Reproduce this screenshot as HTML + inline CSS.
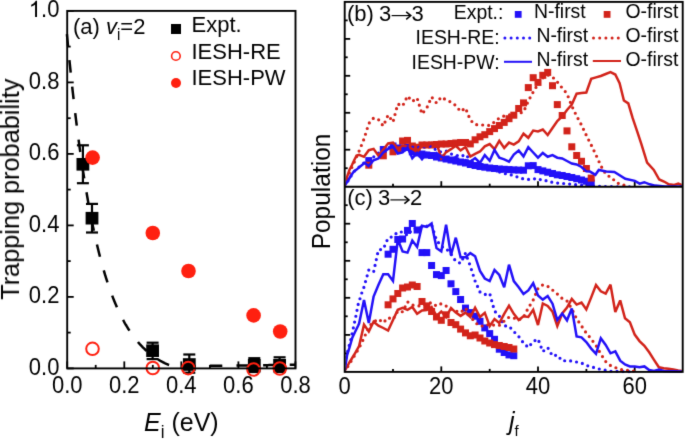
<!DOCTYPE html>
<html><head><meta charset="utf-8"><title>Trapping probability and rotational distributions</title><style>
html,body{margin:0;padding:0;background:#fff;overflow:hidden;}
svg{display:block;font-family:"Liberation Sans",sans-serif;will-change:transform;}
</style></head><body>
<svg width="685" height="439" viewBox="0 0 685 439">
<defs><filter id="soft" color-interpolation-filters="sRGB" x="0" y="0" width="685" height="439" filterUnits="userSpaceOnUse"><feConvolveMatrix order="3" kernelMatrix="0.01134 0.08382 0.01134 0.08382 0.61935 0.08382 0.01134 0.08382 0.01134" divisor="1" edgeMode="duplicate"/></filter></defs>
<g filter="url(#soft)">
<rect width="685" height="439" fill="#fff"/>

<line x1="67.2" y1="368.4" x2="73.7" y2="368.4" stroke="#000" stroke-width="1.8"/>
<line x1="67.2" y1="332.6" x2="70.7" y2="332.6" stroke="#000" stroke-width="1.8"/>
<line x1="67.2" y1="296.9" x2="73.7" y2="296.9" stroke="#000" stroke-width="1.8"/>
<line x1="67.2" y1="261.1" x2="70.7" y2="261.1" stroke="#000" stroke-width="1.8"/>
<line x1="67.2" y1="225.4" x2="73.7" y2="225.4" stroke="#000" stroke-width="1.8"/>
<line x1="67.2" y1="189.6" x2="70.7" y2="189.6" stroke="#000" stroke-width="1.8"/>
<line x1="67.2" y1="153.9" x2="73.7" y2="153.9" stroke="#000" stroke-width="1.8"/>
<line x1="67.2" y1="118.2" x2="70.7" y2="118.2" stroke="#000" stroke-width="1.8"/>
<line x1="67.2" y1="82.4" x2="73.7" y2="82.4" stroke="#000" stroke-width="1.8"/>
<line x1="67.2" y1="46.6" x2="70.7" y2="46.6" stroke="#000" stroke-width="1.8"/>
<line x1="67.2" y1="10.9" x2="73.7" y2="10.9" stroke="#000" stroke-width="1.8"/>
<line x1="67.2" y1="368.4" x2="67.2" y2="361.4" stroke="#000" stroke-width="1.8"/>
<line x1="95.7" y1="368.4" x2="95.7" y2="364.9" stroke="#000" stroke-width="1.8"/>
<line x1="124.3" y1="368.4" x2="124.3" y2="361.4" stroke="#000" stroke-width="1.8"/>
<line x1="152.8" y1="368.4" x2="152.8" y2="364.9" stroke="#000" stroke-width="1.8"/>
<line x1="181.3" y1="368.4" x2="181.3" y2="361.4" stroke="#000" stroke-width="1.8"/>
<line x1="209.9" y1="368.4" x2="209.9" y2="364.9" stroke="#000" stroke-width="1.8"/>
<line x1="238.4" y1="368.4" x2="238.4" y2="361.4" stroke="#000" stroke-width="1.8"/>
<line x1="266.9" y1="368.4" x2="266.9" y2="364.9" stroke="#000" stroke-width="1.8"/>
<line x1="295.4" y1="368.4" x2="295.4" y2="361.4" stroke="#000" stroke-width="1.8"/>
<path d="M66.91,34.13 L67.20,37.20 L67.49,40.24 L67.77,43.25 L68.06,46.24 L68.34,49.20 L68.63,52.13 L68.91,55.04 L69.20,57.92 L69.48,60.78 L69.77,63.61 L70.05,66.42 L70.34,69.20 L70.62,71.96 L70.91,74.69 L71.19,77.40 L71.48,80.08 L71.76,82.74 L72.05,85.38 L72.34,87.99 L72.62,90.58 L72.91,93.14 L73.19,95.69 L73.48,98.21 L73.76,100.71 L74.05,103.19 L74.33,105.64 L74.62,108.07 L74.90,110.48 L75.19,112.87 L75.47,115.24 L75.76,117.59 L76.04,119.92 L76.33,122.22 L76.61,124.51 L76.90,126.77 L77.19,129.02 L77.47,131.24 L77.76,133.45 L78.04,135.63 L78.33,137.80 L78.61,139.95 L78.90,142.08 L79.18,144.19 L79.47,146.28 L79.75,148.35 L80.04,150.40 L80.32,152.44 L80.61,154.45 L80.89,156.45 L81.18,158.43 L81.47,160.40 L81.75,162.34 L82.04,164.27 L82.32,166.18 L82.61,168.08 L82.89,169.96 L83.18,171.82 L83.46,173.66 L83.75,175.49 L84.03,177.30 L84.32,179.10 L84.60,180.88 L84.89,182.65 L85.17,184.39 L85.46,186.13 L85.74,187.85 L86.03,189.55 L86.32,191.23 L86.60,192.91 L86.89,194.56 L87.17,196.21 L87.46,197.84 L87.74,199.45 L88.03,201.05 L88.31,202.63 L88.60,204.21 L88.88,205.76 L89.17,207.31 L89.45,208.84 L89.74,210.35 L90.02,211.85 L90.31,213.34 L90.59,214.82 L90.88,216.28 L91.17,217.73 L91.45,219.17 L91.74,220.59 L92.02,222.00 L92.31,223.40 L92.59,224.79 L92.88,226.16 L93.16,227.53 L93.45,228.88 L93.73,230.21 L94.02,231.54 L94.30,232.85 L94.59,234.16 L94.87,235.45 L95.16,236.73 L95.44,238.00 L95.73,239.25 L96.02,240.50 L96.30,241.73 L96.59,242.96 L96.87,244.17 L97.16,245.37 L97.44,246.56 L97.73,247.74 L98.01,248.91 L98.30,250.07 L98.58,251.22 L98.87,252.36 L99.15,253.49 L99.44,254.61 L99.72,255.72 L100.01,256.82 L100.29,257.91 L100.58,258.99 L100.87,260.06 L101.15,261.12 L101.44,262.17 L101.72,263.21 L102.01,264.25 L102.29,265.27 L102.58,266.29 L102.86,267.29 L103.15,268.29 L103.43,269.27 L103.72,270.25 L104.00,271.22 L104.29,272.19 L104.57,273.14 L104.86,274.08 L105.14,275.02 L105.43,275.95 L105.72,276.87 L106.00,277.78 L106.29,278.68 L106.57,279.58 L106.86,280.47 L107.14,281.34 L107.43,282.22 L107.71,283.08 L108.00,283.94 L108.28,284.79 L108.57,285.63 L108.85,286.46 L109.14,287.29 L109.42,288.11 L109.71,288.92 L110.00,289.72 L110.28,290.52 L110.57,291.31 L110.85,292.09 L111.14,292.87 L111.42,293.64 L111.71,294.40 L111.99,295.16 L112.28,295.91 L112.56,296.65 L112.85,297.38 L113.13,298.11 L113.42,298.84 L113.70,299.55 L113.99,300.26 L114.27,300.96 L114.56,301.66 L114.85,302.35 L115.13,303.04 L115.42,303.72 L115.70,304.39 L115.99,305.06 L116.27,305.72 L116.56,306.37 L116.84,307.02 L117.13,307.67 L117.41,308.30 L117.70,308.94 L117.98,309.56 L118.27,310.18 L118.55,310.80 L118.84,311.41 L119.12,312.01 L119.41,312.61 L119.70,313.21 L119.98,313.80 L120.27,314.38 L120.55,314.96 L120.84,315.53 L121.12,316.10 L121.41,316.66 L121.69,317.22 L121.98,317.77 L122.26,318.32 L122.55,318.86 L122.83,319.40 L123.12,319.93 L123.40,320.46 L123.69,320.99 L123.97,321.51 L124.26,322.02 L124.55,322.53 L124.83,323.04 L125.12,323.54 L125.40,324.04 L125.69,324.53 L125.97,325.02 L126.26,325.50 L126.54,325.98 L126.83,326.45 L127.11,326.92 L127.40,327.39 L127.68,327.85 L127.97,328.31 L128.25,328.77 L128.54,329.22 L128.82,329.66 L129.11,330.10 L129.40,330.54 L129.68,330.98 L129.97,331.41 L130.25,331.84 L130.54,332.26 L130.82,332.68 L131.11,333.09 L131.39,333.50 L131.68,333.91 L131.96,334.32 L132.25,334.72 L132.53,335.12 L132.82,335.51 L133.10,335.90 L133.39,336.29 L133.67,336.67 L133.96,337.05 L134.25,337.43 L134.53,337.80 L134.82,338.17 L135.10,338.54 L135.39,338.90 L135.67,339.26 L135.96,339.62 L136.24,339.97 L136.53,340.32 L136.81,340.67 L137.10,341.01 L137.38,341.35 L137.67,341.69 L137.95,342.03 L138.24,342.36 L138.53,342.69 L138.81,343.01 L139.10,343.34 L139.38,343.66 L139.67,343.98 L139.95,344.29 L140.24,344.60 L140.52,344.91 L140.81,345.22 L141.09,345.52 L141.38,345.82 L141.66,346.12 L141.95,346.42 L142.23,346.71 L142.52,347.00 L142.80,347.29 L143.09,347.57 L143.38,347.86 L143.66,348.14 L143.95,348.42 L144.23,348.69 L144.52,348.96 L144.80,349.23 L145.09,349.50 L145.37,349.77 L145.66,350.03 L145.94,350.29 L146.23,350.55 L146.51,350.81 L146.80,351.06 L147.08,351.31 L147.37,351.56 L147.65,351.81 L147.94,352.05 L148.23,352.30 L148.51,352.54 L148.80,352.77 L149.08,353.01 L149.37,353.24 L149.65,353.48 L149.94,353.71 L150.22,353.93 L150.51,354.16 L150.79,354.38 L151.08,354.61 L151.36,354.83 L151.65,355.04 L151.93,355.26 L152.22,355.47 L152.50,355.68 L152.79,355.89 L153.08,356.10 L153.36,356.31 L153.65,356.51 L153.93,356.72 L154.22,356.92 L154.50,357.12 L154.79,357.31 L155.07,357.51 L155.36,357.70 L155.64,357.89 L155.93,358.08 L156.21,358.27 L156.50,358.46 L156.78,358.64 L157.07,358.82 L157.35,359.00 L157.64,359.18 L157.93,359.36 L158.21,359.54 L158.50,359.71 L158.78,359.89 L159.07,360.06 L159.35,360.23 L159.64,360.39 L159.92,360.56 L160.21,360.72 L160.49,360.89 L160.78,361.05 L161.06,361.21 L161.35,361.37 L161.63,361.52 L161.92,361.68 L162.20,361.83 L162.49,361.98 L162.78,362.13 L163.06,362.28 L163.35,362.43 L163.63,362.57 L163.92,362.72 L164.20,362.86 L164.49,363.00 L164.77,363.14 L165.06,363.27 L165.34,363.41 L165.63,363.54 L165.91,363.67 L166.20,363.80 L166.48,363.92 L166.77,364.05 L167.06,364.17 L167.34,364.29 L167.63,364.40 L167.91,364.52 L168.20,364.63 L168.48,364.74 L168.77,364.84 L169.05,364.94 L169.34,365.03 L169.62,365.12 L169.91,365.21 L170.19,365.29 L170.48,365.37 L170.76,365.44 L171.05,365.50 L171.33,365.56 L171.62,365.62 L171.91,365.67 L172.19,365.71 L172.48,365.75 L172.76,365.79 L173.05,365.82 L173.33,365.85 L173.62,365.87 L173.90,365.90 L174.19,365.92 L174.47,365.94 L174.76,365.95 L175.04,365.97 L175.33,365.98 L175.61,365.99 L175.90,366.01 L176.18,366.02 L176.47,366.03 L176.76,366.03 L177.04,366.04 L177.33,366.05 L177.61,366.06 L177.90,366.06 L178.18,366.07 L178.47,366.08 L178.75,366.08 L179.04,366.09 L179.32,366.09 L179.61,366.10 L179.89,366.10 L180.18,366.10 L180.46,366.11 L180.75,366.11 L181.03,366.11 L181.32,366.12 L181.61,366.12 L181.89,366.12 L182.18,366.12 L182.46,366.11 L182.75,366.11 L183.03,366.11 L183.32,366.11 L183.60,366.11 L183.89,366.11 L184.17,366.11 L184.46,366.11 L184.74,366.10 L185.03,366.10 L185.31,366.10 L185.60,366.10 L185.88,366.10 L186.17,366.09 L186.46,366.09 L186.74,366.09 L187.03,366.09 L187.31,366.09 L187.60,366.08 L187.88,366.08 L188.17,366.08 L188.45,366.08 L188.74,366.07 L189.02,366.07 L189.31,366.07 L189.59,366.07 L189.88,366.06 L190.16,366.06 L190.45,366.06 L190.73,366.06 L191.02,366.05 L191.31,366.05 L191.59,366.05 L191.88,366.04 L192.16,366.04 L192.45,366.04 L192.73,366.04 L193.02,366.03 L193.30,366.03 L193.59,366.03 L193.87,366.02 L194.16,366.02 L194.44,366.02 L194.73,366.02 L195.01,366.01 L195.30,366.01 L195.59,366.01 L195.87,366.00 L196.16,366.00 L196.44,366.00 L196.73,365.99 L197.01,365.99 L197.30,365.99 L197.58,365.98 L197.87,365.98 L198.15,365.98 L198.44,365.98 L198.72,365.97 L199.01,365.97 L199.29,365.97 L199.58,365.96 L199.86,365.96 L200.15,365.96 L200.44,365.95 L200.72,365.95 L201.01,365.95 L201.29,365.94 L201.58,365.94 L201.86,365.94 L202.15,365.93 L202.43,365.93 L202.72,365.93 L203.00,365.92 L203.29,365.92 L203.57,365.92 L203.86,365.91 L204.14,365.91 L204.43,365.91 L204.71,365.90 L205.00,365.90 L205.29,365.90 L205.57,365.89 L205.86,365.89 L206.14,365.89 L206.43,365.88 L206.71,365.88 L207.00,365.88 L207.28,365.87 L207.57,365.87 L207.85,365.87 L208.14,365.86 L208.42,365.86 L208.71,365.86 L208.99,365.85 L209.28,365.85 L209.56,365.85 L209.85,365.84 L210.14,365.84 L210.42,365.84 L210.71,365.83 L210.99,365.83 L211.28,365.83 L211.56,365.82 L211.85,365.82 L212.13,365.82 L212.42,365.81 L212.70,365.81 L212.99,365.81 L213.27,365.80 L213.56,365.80 L213.84,365.80 L214.13,365.79 L214.41,365.79 L214.70,365.79 L214.99,365.78 L215.27,365.78 L215.56,365.78 L215.84,365.77 L216.13,365.77 L216.41,365.77 L216.70,365.76 L216.98,365.76 L217.27,365.76 L217.55,365.75 L217.84,365.75 L218.12,365.75 L218.41,365.74 L218.69,365.74 L218.98,365.74 L219.26,365.73 L219.55,365.73 L219.84,365.73 L220.12,365.72 L220.41,365.72 L220.69,365.71 L220.98,365.71 L221.26,365.71 L221.55,365.70 L221.83,365.70 L222.12,365.70 L222.40,365.69 L222.69,365.69 L222.97,365.69 L223.26,365.68 L223.54,365.68 L223.83,365.68 L224.12,365.67 L224.40,365.67 L224.69,365.67 L224.97,365.66 L225.26,365.66 L225.54,365.66 L225.83,365.65 L226.11,365.65 L226.40,365.65 L226.68,365.64 L226.97,365.64 L227.25,365.64 L227.54,365.63 L227.82,365.63 L228.11,365.62 L228.39,365.62 L228.68,365.62 L228.97,365.61 L229.25,365.61 L229.54,365.61 L229.82,365.60 L230.11,365.60 L230.39,365.60 L230.68,365.59 L230.96,365.59 L231.25,365.59 L231.53,365.58 L231.82,365.58 L232.10,365.58 L232.39,365.57 L232.67,365.57 L232.96,365.57 L233.24,365.56 L233.53,365.56 L233.82,365.55 L234.10,365.55 L234.39,365.55 L234.67,365.54 L234.96,365.54 L235.24,365.54 L235.53,365.53 L235.81,365.53 L236.10,365.53 L236.38,365.52 L236.67,365.52 L236.95,365.52 L237.24,365.51 L237.52,365.51 L237.81,365.51 L238.09,365.50 L238.38,365.50 L238.67,365.50 L238.95,365.49 L239.24,365.49 L239.52,365.48 L239.81,365.48 L240.09,365.48 L240.38,365.47 L240.66,365.47 L240.95,365.47 L241.23,365.46 L241.52,365.46 L241.80,365.46 L242.09,365.45 L242.37,365.45 L242.66,365.45 L242.94,365.44 L243.23,365.44 L243.52,365.44 L243.80,365.43 L244.09,365.43 L244.37,365.42 L244.66,365.42 L244.94,365.42 L245.23,365.41 L245.51,365.41 L245.80,365.41 L246.08,365.40 L246.37,365.40 L246.65,365.40 L246.94,365.39 L247.22,365.39 L247.51,365.39 L247.79,365.38 L248.08,365.38 L248.37,365.38 L248.65,365.37 L248.94,365.37 L249.22,365.36 L249.51,365.36 L249.79,365.36 L250.08,365.35 L250.36,365.35 L250.65,365.35 L250.93,365.34 L251.22,365.34 L251.50,365.34 L251.79,365.33 L252.07,365.33 L252.36,365.33 L252.65,365.32 L252.93,365.32 L253.22,365.32 L253.50,365.31 L253.79,365.31 L254.07,365.30 L254.36,365.30 L254.64,365.30 L254.93,365.29 L255.21,365.29 L255.50,365.29 L255.78,365.28 L256.07,365.28 L256.35,365.28 L256.64,365.27 L256.92,365.27 L257.21,365.27 L257.50,365.26 L257.78,365.26 L258.07,365.26 L258.35,365.25 L258.64,365.25 L258.92,365.24 L259.21,365.24 L259.49,365.24 L259.78,365.23 L260.06,365.23 L260.35,365.23 L260.63,365.22 L260.92,365.22 L261.20,365.22 L261.49,365.21 L261.77,365.21 L262.06,365.21 L262.35,365.20 L262.63,365.20 L262.92,365.19 L263.20,365.19 L263.49,365.19 L263.77,365.18 L264.06,365.18 L264.34,365.18 L264.63,365.17 L264.91,365.17 L265.20,365.17 L265.48,365.16 L265.77,365.16 L266.05,365.16 L266.34,365.15 L266.62,365.15 L266.91,365.15 L267.20,365.14 L267.48,365.14 L267.77,365.13 L268.05,365.13 L268.34,365.13 L268.62,365.12 L268.91,365.12 L269.19,365.12 L269.48,365.11 L269.76,365.11 L270.05,365.11 L270.33,365.10 L270.62,365.10 L270.90,365.10 L271.19,365.09 L271.47,365.09 L271.76,365.08 L272.05,365.08 L272.33,365.08 L272.62,365.07 L272.90,365.07 L273.19,365.07 L273.47,365.06 L273.76,365.06 L274.04,365.06 L274.33,365.05 L274.61,365.05 L274.90,365.05 L275.18,365.04 L275.47,365.04 L275.75,365.04 L276.04,365.03 L276.32,365.03 L276.61,365.02 L276.90,365.02 L277.18,365.02 L277.47,365.01 L277.75,365.01 L278.04,365.01 L278.32,365.00 L278.61,365.00 L278.89,365.00 L279.18,364.99 L279.46,364.99 L279.75,364.99 L280.03,364.98 L280.32,364.98 L280.60,364.97 L280.89,364.97 L281.18,364.97 L281.46,364.96 L281.75,364.96 L282.03,364.96 L282.32,364.95 L282.60,364.95 L282.89,364.95 L283.17,364.94 L283.46,364.94 L283.74,364.94 L284.03,364.93 L284.31,364.93 L284.60,364.92 L284.88,364.92 L285.17,364.92 L285.45,364.91 L285.74,364.91 L286.03,364.91 L286.31,364.90 L286.60,364.90 L286.88,364.90 L287.17,364.89 L287.45,364.89 L287.74,364.89 L288.02,364.88 L288.31,364.88 L288.59,364.87 L288.88,364.87 L289.16,364.87 L289.45,364.86 L289.73,364.86 L290.02,364.86 L290.30,364.85 L290.59,364.85 L290.88,364.85 L291.16,364.84 L291.45,364.84 L291.73,364.84 L292.02,364.83 L292.30,364.83 L292.59,364.83 L292.87,364.82 L293.16,364.82 L293.44,364.81 L293.73,364.81 L294.01,364.81 L294.30,364.80 L294.58,364.80 L294.87,364.80 L295.15,364.79" fill="none" stroke="#000" stroke-width="2.5" stroke-dasharray="12.5 14.15" stroke-dashoffset="0.46"/>
<line x1="82.9" y1="145.3" x2="82.9" y2="183.2" stroke="#000" stroke-width="2.2"/>
<line x1="76.9" y1="145.3" x2="88.9" y2="145.3" stroke="#000" stroke-width="2.2"/>
<line x1="76.9" y1="183.2" x2="88.9" y2="183.2" stroke="#000" stroke-width="2.2"/>
<rect x="76.5" y="158.0" width="12.8" height="12.6" fill="#000"/>
<line x1="92.0" y1="203.9" x2="92.0" y2="232.5" stroke="#000" stroke-width="2.2"/>
<line x1="86.0" y1="203.9" x2="98.0" y2="203.9" stroke="#000" stroke-width="2.2"/>
<line x1="86.0" y1="232.5" x2="98.0" y2="232.5" stroke="#000" stroke-width="2.2"/>
<rect x="85.6" y="211.9" width="12.8" height="12.6" fill="#000"/>
<line x1="152.6" y1="342.7" x2="152.6" y2="359.1" stroke="#000" stroke-width="2.2"/>
<line x1="146.6" y1="342.7" x2="158.6" y2="342.7" stroke="#000" stroke-width="2.2"/>
<line x1="146.6" y1="359.1" x2="158.6" y2="359.1" stroke="#000" stroke-width="2.2"/>
<rect x="146.2" y="344.4" width="12.8" height="12.6" fill="#000"/>
<line x1="189.3" y1="354.5" x2="189.3" y2="372.7" stroke="#000" stroke-width="2.2"/>
<line x1="183.3" y1="354.5" x2="195.3" y2="354.5" stroke="#000" stroke-width="2.2"/>
<line x1="183.3" y1="372.7" x2="195.3" y2="372.7" stroke="#000" stroke-width="2.2"/>
<rect x="182.9" y="358.2" width="12.8" height="12.6" fill="#000"/>
<line x1="254.3" y1="358.2" x2="254.3" y2="372.0" stroke="#000" stroke-width="2.2"/>
<line x1="248.3" y1="358.2" x2="260.3" y2="358.2" stroke="#000" stroke-width="2.2"/>
<line x1="248.3" y1="372.0" x2="260.3" y2="372.0" stroke="#000" stroke-width="2.2"/>
<rect x="247.9" y="359.0" width="12.8" height="12.6" fill="#000"/>
<line x1="279.6" y1="357.3" x2="279.6" y2="372.0" stroke="#000" stroke-width="2.2"/>
<line x1="273.6" y1="357.3" x2="285.6" y2="357.3" stroke="#000" stroke-width="2.2"/>
<line x1="273.6" y1="372.0" x2="285.6" y2="372.0" stroke="#000" stroke-width="2.2"/>
<rect x="273.2" y="359.0" width="12.8" height="12.6" fill="#000"/>
<circle cx="92.6" cy="157.6" r="7.3" fill="#ff2010"/>
<circle cx="152.8" cy="233" r="7.3" fill="#ff2010"/>
<circle cx="188.5" cy="271" r="7.3" fill="#ff2010"/>
<circle cx="253.6" cy="315.4" r="7.3" fill="#ff2010"/>
<circle cx="280.2" cy="331.5" r="7.3" fill="#ff2010"/>
<circle cx="92.5" cy="348.8" r="6.3" fill="none" stroke="#ff2010" stroke-width="2"/>
<circle cx="152.8" cy="368" r="6.3" fill="none" stroke="#ff2010" stroke-width="2"/>
<circle cx="188.2" cy="368.1" r="6.3" fill="none" stroke="#ff2010" stroke-width="2"/>
<circle cx="253.5" cy="369.5" r="6.3" fill="none" stroke="#ff2010" stroke-width="2"/>
<circle cx="279.8" cy="368.5" r="6.3" fill="none" stroke="#ff2010" stroke-width="2"/>
<rect x="67.2" y="10.9" width="228.3" height="357.5" fill="none" stroke="#000" stroke-width="1.9"/>
<text transform="translate(59.40,374.50) scale(1,1.05)" font-size="22" text-anchor="end">0.0</text>
<text transform="translate(59.40,303.00) scale(1,1.05)" font-size="22" text-anchor="end">0.2</text>
<text transform="translate(59.40,231.50) scale(1,1.05)" font-size="22" text-anchor="end">0.4</text>
<text transform="translate(59.40,160.00) scale(1,1.05)" font-size="22" text-anchor="end">0.6</text>
<text transform="translate(59.40,88.50) scale(1,1.05)" font-size="22" text-anchor="end">0.8</text>
<path transform="translate(28.82,17.00) scale(0.01074,-0.01100)" d="M763,0 L583,0 L583,1147 Q518,1085 412,1023 Q306,961 221,930 L221,1104 Q374,1176 488,1278 Q602,1380 649,1466 L763,1466 Z" fill="#000"/>
<text transform="translate(41.05,17.00) scale(1,1.05)" font-size="22">.0</text>
<text transform="translate(67.20,393.00) scale(1,1.05)" font-size="22" text-anchor="middle">0.0</text>
<text transform="translate(124.26,393.00) scale(1,1.05)" font-size="22" text-anchor="middle">0.2</text>
<text transform="translate(181.32,393.00) scale(1,1.05)" font-size="22" text-anchor="middle">0.4</text>
<text transform="translate(238.38,393.00) scale(1,1.05)" font-size="22" text-anchor="middle">0.6</text>
<text transform="translate(295.44,393.00) scale(1,1.05)" font-size="22" text-anchor="middle">0.8</text>
<text transform="translate(73.00,33.60) scale(1,1.04)" font-size="22">(a) <tspan font-style="italic">v</tspan><tspan font-size="15" dy="6">i</tspan><tspan dy="-6">=2</tspan></text>
<rect x="171" y="24" width="10" height="10" fill="#000"/>
<text transform="translate(191.50,31.60) scale(1,1.04)" font-size="22">Expt.</text>
<circle cx="175.9" cy="56" r="4.3" fill="none" stroke="#ff2010" stroke-width="1.6"/>
<text transform="translate(191.50,58.70) scale(1,1.04)" font-size="22">IESH-RE</text>
<circle cx="176" cy="83" r="5" fill="#ff2010"/>
<text transform="translate(191.50,85.20) scale(1,1.04)" font-size="22">IESH-PW</text>
<text transform="translate(19.00,189.30) rotate(-90) scale(1,1.0)" font-size="25.3" text-anchor="middle">Trapping probability</text>
<text transform="translate(144.00,431.40) scale(1,1.04)" font-size="25"><tspan font-style="italic">E</tspan><tspan font-size="17" dy="6.5">i</tspan><tspan dy="-6.5"> (eV)</tspan></text>
<line x1="344.7" y1="168.2" x2="347.7" y2="168.2" stroke="#000" stroke-width="1.8"/>
<line x1="344.7" y1="149.7" x2="350.2" y2="149.7" stroke="#000" stroke-width="1.8"/>
<line x1="344.7" y1="131.3" x2="347.7" y2="131.3" stroke="#000" stroke-width="1.8"/>
<line x1="344.7" y1="112.8" x2="350.2" y2="112.8" stroke="#000" stroke-width="1.8"/>
<line x1="344.7" y1="94.3" x2="347.7" y2="94.3" stroke="#000" stroke-width="1.8"/>
<line x1="344.7" y1="75.8" x2="350.2" y2="75.8" stroke="#000" stroke-width="1.8"/>
<line x1="344.7" y1="57.3" x2="347.7" y2="57.3" stroke="#000" stroke-width="1.8"/>
<line x1="344.7" y1="38.9" x2="350.2" y2="38.9" stroke="#000" stroke-width="1.8"/>
<line x1="344.7" y1="20.4" x2="347.7" y2="20.4" stroke="#000" stroke-width="1.8"/>
<line x1="344.7" y1="353.4" x2="347.7" y2="353.4" stroke="#000" stroke-width="1.8"/>
<line x1="344.7" y1="334.9" x2="350.2" y2="334.9" stroke="#000" stroke-width="1.8"/>
<line x1="344.7" y1="316.3" x2="347.7" y2="316.3" stroke="#000" stroke-width="1.8"/>
<line x1="344.7" y1="297.8" x2="350.2" y2="297.8" stroke="#000" stroke-width="1.8"/>
<line x1="344.7" y1="279.3" x2="347.7" y2="279.3" stroke="#000" stroke-width="1.8"/>
<line x1="344.7" y1="260.8" x2="350.2" y2="260.8" stroke="#000" stroke-width="1.8"/>
<line x1="344.7" y1="242.3" x2="347.7" y2="242.3" stroke="#000" stroke-width="1.8"/>
<line x1="344.7" y1="223.7" x2="350.2" y2="223.7" stroke="#000" stroke-width="1.8"/>
<line x1="344.7" y1="205.2" x2="347.7" y2="205.2" stroke="#000" stroke-width="1.8"/>
<line x1="393.0" y1="186.7" x2="393.0" y2="183.7" stroke="#000" stroke-width="1.8"/>
<line x1="393.0" y1="371.9" x2="393.0" y2="368.9" stroke="#000" stroke-width="1.8"/>
<line x1="441.3" y1="186.7" x2="441.3" y2="181.2" stroke="#000" stroke-width="1.8"/>
<line x1="441.3" y1="371.9" x2="441.3" y2="366.4" stroke="#000" stroke-width="1.8"/>
<line x1="489.7" y1="186.7" x2="489.7" y2="183.7" stroke="#000" stroke-width="1.8"/>
<line x1="489.7" y1="371.9" x2="489.7" y2="368.9" stroke="#000" stroke-width="1.8"/>
<line x1="538.0" y1="186.7" x2="538.0" y2="181.2" stroke="#000" stroke-width="1.8"/>
<line x1="538.0" y1="371.9" x2="538.0" y2="366.4" stroke="#000" stroke-width="1.8"/>
<line x1="586.4" y1="186.7" x2="586.4" y2="183.7" stroke="#000" stroke-width="1.8"/>
<line x1="586.4" y1="371.9" x2="586.4" y2="368.9" stroke="#000" stroke-width="1.8"/>
<line x1="634.7" y1="186.7" x2="634.7" y2="181.2" stroke="#000" stroke-width="1.8"/>
<line x1="634.7" y1="371.9" x2="634.7" y2="366.4" stroke="#000" stroke-width="1.8"/>
<defs><clipPath id="cb"><rect x="345.6" y="2.8" width="336.2" height="184.2"/></clipPath><clipPath id="cc"><rect x="345.6" y="187.6" width="336.2" height="186"/></clipPath></defs>
<g clip-path="url(#cb)">
<rect x="365.3" y="157.1" width="7.0" height="7.0" fill="#2210f8"/><rect x="379.8" y="146.0" width="7.0" height="7.0" fill="#2210f8"/><rect x="389.5" y="142.5" width="7.0" height="7.0" fill="#2210f8"/><rect x="394.3" y="144.5" width="7.0" height="7.0" fill="#2210f8"/><rect x="399.1" y="144.5" width="7.0" height="7.0" fill="#2210f8"/><rect x="404.0" y="144.0" width="7.0" height="7.0" fill="#2210f8"/><rect x="408.8" y="148.3" width="7.0" height="7.0" fill="#2210f8"/><rect x="413.6" y="149.5" width="7.0" height="7.0" fill="#2210f8"/><rect x="418.5" y="150.5" width="7.0" height="7.0" fill="#2210f8"/><rect x="423.3" y="151.5" width="7.0" height="7.0" fill="#2210f8"/><rect x="428.1" y="152.0" width="7.0" height="7.0" fill="#2210f8"/><rect x="433.0" y="153.5" width="7.0" height="7.0" fill="#2210f8"/><rect x="437.8" y="154.5" width="7.0" height="7.0" fill="#2210f8"/><rect x="442.6" y="155.5" width="7.0" height="7.0" fill="#2210f8"/><rect x="447.5" y="156.5" width="7.0" height="7.0" fill="#2210f8"/><rect x="452.3" y="157.5" width="7.0" height="7.0" fill="#2210f8"/><rect x="457.1" y="158.5" width="7.0" height="7.0" fill="#2210f8"/><rect x="462.0" y="159.5" width="7.0" height="7.0" fill="#2210f8"/><rect x="466.8" y="161.0" width="7.0" height="7.0" fill="#2210f8"/><rect x="471.6" y="162.0" width="7.0" height="7.0" fill="#2210f8"/><rect x="476.5" y="163.0" width="7.0" height="7.0" fill="#2210f8"/><rect x="481.3" y="163.7" width="7.0" height="7.0" fill="#2210f8"/><rect x="486.2" y="164.5" width="7.0" height="7.0" fill="#2210f8"/><rect x="491.0" y="165.0" width="7.0" height="7.0" fill="#2210f8"/><rect x="495.8" y="165.5" width="7.0" height="7.0" fill="#2210f8"/><rect x="500.7" y="165.8" width="7.0" height="7.0" fill="#2210f8"/><rect x="505.5" y="166.1" width="7.0" height="7.0" fill="#2210f8"/><rect x="510.3" y="166.4" width="7.0" height="7.0" fill="#2210f8"/><rect x="515.2" y="166.6" width="7.0" height="7.0" fill="#2210f8"/><rect x="520.0" y="166.7" width="7.0" height="7.0" fill="#2210f8"/><rect x="524.8" y="162.3" width="7.0" height="7.0" fill="#2210f8"/><rect x="529.7" y="162.1" width="7.0" height="7.0" fill="#2210f8"/><rect x="534.5" y="166.1" width="7.0" height="7.0" fill="#2210f8"/><rect x="539.3" y="167.4" width="7.0" height="7.0" fill="#2210f8"/><rect x="544.2" y="168.7" width="7.0" height="7.0" fill="#2210f8"/><rect x="549.0" y="170.0" width="7.0" height="7.0" fill="#2210f8"/><rect x="553.8" y="171.3" width="7.0" height="7.0" fill="#2210f8"/><rect x="558.7" y="172.0" width="7.0" height="7.0" fill="#2210f8"/><rect x="563.5" y="173.0" width="7.0" height="7.0" fill="#2210f8"/><rect x="568.3" y="174.0" width="7.0" height="7.0" fill="#2210f8"/><rect x="573.2" y="175.2" width="7.0" height="7.0" fill="#2210f8"/><rect x="578.0" y="176.5" width="7.0" height="7.0" fill="#2210f8"/><rect x="582.9" y="177.7" width="7.0" height="7.0" fill="#2210f8"/><rect x="587.7" y="179.5" width="7.0" height="7.0" fill="#2210f8"/>
<rect x="365.3" y="161.7" width="7.0" height="7.0" fill="#d2231a"/><rect x="379.8" y="152.3" width="7.0" height="7.0" fill="#d2231a"/><rect x="389.5" y="148.3" width="7.0" height="7.0" fill="#d2231a"/><rect x="394.3" y="146.5" width="7.0" height="7.0" fill="#d2231a"/><rect x="399.1" y="137.5" width="7.0" height="7.0" fill="#d2231a"/><rect x="404.0" y="136.9" width="7.0" height="7.0" fill="#d2231a"/><rect x="408.8" y="142.5" width="7.0" height="7.0" fill="#d2231a"/><rect x="413.6" y="143.7" width="7.0" height="7.0" fill="#d2231a"/><rect x="418.5" y="141.5" width="7.0" height="7.0" fill="#d2231a"/><rect x="423.3" y="141.5" width="7.0" height="7.0" fill="#d2231a"/><rect x="428.1" y="141.5" width="7.0" height="7.0" fill="#d2231a"/><rect x="433.0" y="141.0" width="7.0" height="7.0" fill="#d2231a"/><rect x="437.8" y="140.5" width="7.0" height="7.0" fill="#d2231a"/><rect x="442.6" y="140.5" width="7.0" height="7.0" fill="#d2231a"/><rect x="447.5" y="140.0" width="7.0" height="7.0" fill="#d2231a"/><rect x="452.3" y="139.5" width="7.0" height="7.0" fill="#d2231a"/><rect x="457.1" y="139.0" width="7.0" height="7.0" fill="#d2231a"/><rect x="462.0" y="139.0" width="7.0" height="7.0" fill="#d2231a"/><rect x="466.8" y="140.4" width="7.0" height="7.0" fill="#d2231a"/><rect x="471.6" y="136.3" width="7.0" height="7.0" fill="#d2231a"/><rect x="476.5" y="133.3" width="7.0" height="7.0" fill="#d2231a"/><rect x="481.3" y="131.2" width="7.0" height="7.0" fill="#d2231a"/><rect x="486.2" y="128.1" width="7.0" height="7.0" fill="#d2231a"/><rect x="491.0" y="125.1" width="7.0" height="7.0" fill="#d2231a"/><rect x="495.8" y="122.0" width="7.0" height="7.0" fill="#d2231a"/><rect x="500.7" y="118.9" width="7.0" height="7.0" fill="#d2231a"/><rect x="505.5" y="115.2" width="7.0" height="7.0" fill="#d2231a"/><rect x="510.3" y="111.7" width="7.0" height="7.0" fill="#d2231a"/><rect x="515.2" y="105.0" width="7.0" height="7.0" fill="#d2231a"/><rect x="520.0" y="99.4" width="7.0" height="7.0" fill="#d2231a"/><rect x="524.8" y="84.1" width="7.0" height="7.0" fill="#d2231a"/><rect x="529.7" y="74.2" width="7.0" height="7.0" fill="#d2231a"/><rect x="534.5" y="78.9" width="7.0" height="7.0" fill="#d2231a"/><rect x="539.3" y="71.8" width="7.0" height="7.0" fill="#d2231a"/><rect x="544.2" y="68.9" width="7.0" height="7.0" fill="#d2231a"/><rect x="549.0" y="82.2" width="7.0" height="7.0" fill="#d2231a"/><rect x="553.8" y="101.1" width="7.0" height="7.0" fill="#d2231a"/><rect x="558.7" y="112.0" width="7.0" height="7.0" fill="#d2231a"/><rect x="563.5" y="127.4" width="7.0" height="7.0" fill="#d2231a"/><rect x="568.3" y="143.3" width="7.0" height="7.0" fill="#d2231a"/><rect x="573.2" y="152.0" width="7.0" height="7.0" fill="#d2231a"/><rect x="578.0" y="157.8" width="7.0" height="7.0" fill="#d2231a"/><rect x="582.9" y="165.0" width="7.0" height="7.0" fill="#d2231a"/><rect x="587.7" y="174.6" width="7.0" height="7.0" fill="#d2231a"/>
<path d="M344.6,186.0 L348.4,180.3 L351.1,175.8 L353.9,171.7 L356.6,169.3 L360.2,166.0 L364.8,162.3 L368.8,159.5 L373.6,157.0 L378.4,153.0 L383.3,150.5 L388.1,148.0 L393.0,146.0 L397.8,146.0 L402.6,146.0 L407.5,146.0 L412.3,147.0 L417.1,147.0 L422.0,148.0 L426.8,146.0 L431.6,146.4 L436.5,150.4 L441.3,152.0 L446.1,151.0 L451.0,154.0 L455.8,155.0 L460.6,156.6 L465.5,154.4 L470.3,160.0 L475.1,163.0 L480.0,165.0 L484.8,167.0 L489.7,169.0 L494.5,170.5 L499.3,172.0 L504.2,173.5 L509.0,174.5 L513.8,175.5 L518.7,177.5 L523.5,179.0 L528.3,179.4 L533.2,179.0 L538.0,178.5 L542.8,180.7 L547.7,180.7 L552.5,182.5 L557.3,183.0 L567.0,183.8 L576.6,184.8 L586.3,185.5 L600.8,186.5 L600.8,186.6 L634.0,186.9" fill="none" stroke="#2210f8" stroke-width="3.2" stroke-linecap="round" stroke-linejoin="round" stroke-dasharray="0 6.0"/>
<path d="M344.6,184.0 L349.4,173.0 L354.3,162.0 L359.1,151.0 L364.0,139.0 L368.8,123.5 L373.6,118.0 L378.4,119.5 L383.3,126.0 L388.1,115.0 L393.0,122.0 L397.8,104.0 L402.6,106.0 L407.5,96.0 L412.3,101.5 L417.1,98.0 L422.0,114.0 L426.8,108.0 L431.6,97.0 L436.5,103.0 L441.3,97.0 L446.1,100.0 L451.0,102.0 L455.8,105.5 L460.6,111.5 L465.5,108.0 L470.3,120.0 L475.1,124.5 L480.0,125.0 L484.8,125.0 L489.7,125.5 L494.5,122.0 L499.3,118.0 L504.2,116.0 L509.0,115.0 L513.8,113.5 L518.7,113.5 L523.5,112.0 L528.3,101.0 L533.2,92.0 L538.0,84.0 L542.8,78.0 L547.7,75.0 L552.5,77.0 L557.3,82.0 L562.2,88.0 L567.0,93.7 L571.8,106.0 L576.6,116.0 L581.5,125.0 L586.3,135.3 L591.2,145.0 L596.0,155.0 L600.8,165.6 L603.6,170.7 L607.0,175.4 L611.7,177.5 L615.8,182.2 L621.9,185.0 L628.7,185.5" fill="none" stroke="#d2231a" stroke-width="3.2" stroke-linecap="round" stroke-linejoin="round" stroke-dasharray="0 6.0"/>
<path d="M344.6,185.5 L345.4,184.2 L347.5,175.5 L349.4,170.0 L352.0,165.0 L354.3,160.0 L356.6,155.5 L359.1,154.8 L364.0,156.8 L368.8,150.2 L373.6,148.9 L378.4,155.7 L383.3,149.5 L388.1,143.4 L393.0,142.7 L397.8,148.9 L402.6,145.5 L407.5,146.6 L412.3,148.9 L417.1,151.8 L422.0,145.5 L426.8,146.6 L431.6,142.7 L436.5,143.0 L441.3,158.3 L446.1,152.1 L451.0,149.2 L455.8,145.8 L460.6,150.4 L465.5,147.0 L470.3,156.6 L475.1,153.8 L480.0,151.5 L484.8,146.4 L489.7,144.1 L494.5,149.2 L499.3,140.8 L504.2,147.9 L509.0,142.6 L513.8,144.6 L518.7,141.3 L523.5,133.7 L528.3,137.8 L533.2,130.6 L538.0,131.5 L542.8,129.5 L547.7,135.0 L552.5,128.0 L557.3,121.0 L562.2,116.5 L567.0,110.0 L571.8,104.6 L576.6,93.7 L581.5,93.0 L586.3,92.5 L591.2,78.8 L596.0,77.4 L600.8,76.0 L605.7,74.0 L610.5,72.2 L615.3,74.5 L619.6,83.2 L623.9,100.5 L628.3,103.4 L632.6,117.9 L637.0,130.9 L641.3,143.9 L647.1,162.7 L653.8,170.0 L659.2,179.5 L664.0,181.5 L668.8,184.3 L674.2,185.0 L678.3,183.6 L683.0,185.5" fill="none" stroke="#d2231a" stroke-width="2.5" stroke-linejoin="miter" stroke-miterlimit="3"/>
<path d="M344.6,185.7 L348.4,180.0 L351.1,175.5 L353.9,171.4 L356.6,169.6 L360.2,166.4 L364.8,162.8 L368.6,166.0 L373.6,160.3 L378.4,158.5 L383.3,152.5 L388.1,149.0 L393.0,146.6 L397.8,153.5 L402.6,152.3 L407.5,147.5 L412.3,158.3 L417.1,153.0 L422.0,159.2 L426.8,153.0 L431.6,155.0 L436.5,153.0 L441.3,157.0 L446.1,158.4 L451.0,160.0 L455.8,157.0 L460.6,162.7 L465.5,160.0 L470.3,161.7 L475.1,158.1 L480.0,163.0 L484.8,155.1 L489.7,160.8 L494.5,149.9 L499.3,157.7 L504.2,159.4 L509.0,161.7 L513.8,154.5 L518.7,150.5 L523.5,156.4 L528.3,147.2 L533.2,152.5 L538.0,157.7 L542.8,152.9 L547.7,156.8 L552.5,155.1 L557.3,157.7 L562.2,158.4 L567.0,161.0 L571.8,163.5 L576.6,164.5 L581.5,167.0 L586.3,171.4 L590.0,171.6 L595.4,174.8 L598.8,170.0 L606.3,171.4 L614.4,172.0 L625.3,178.8 L634.8,180.9 L639.6,183.6 L644.3,182.2 L649.7,184.3 L655.2,185.6 L665.0,186.4 L683.0,186.6" fill="none" stroke="#2210f8" stroke-width="2.5" stroke-linejoin="miter" stroke-miterlimit="3"/>
</g>
<g clip-path="url(#cc)">
<rect x="384.6" y="250.7" width="7.0" height="7.0" fill="#2210f8"/><rect x="389.5" y="245.8" width="7.0" height="7.0" fill="#2210f8"/><rect x="394.3" y="236.0" width="7.0" height="7.0" fill="#2210f8"/><rect x="399.1" y="235.5" width="7.0" height="7.0" fill="#2210f8"/><rect x="404.0" y="226.9" width="7.0" height="7.0" fill="#2210f8"/><rect x="408.8" y="220.0" width="7.0" height="7.0" fill="#2210f8"/><rect x="413.6" y="226.5" width="7.0" height="7.0" fill="#2210f8"/><rect x="418.5" y="249.1" width="7.0" height="7.0" fill="#2210f8"/><rect x="423.3" y="249.1" width="7.0" height="7.0" fill="#2210f8"/><rect x="428.1" y="262.0" width="7.0" height="7.0" fill="#2210f8"/><rect x="433.0" y="271.1" width="7.0" height="7.0" fill="#2210f8"/><rect x="437.8" y="272.1" width="7.0" height="7.0" fill="#2210f8"/><rect x="442.6" y="267.0" width="7.0" height="7.0" fill="#2210f8"/><rect x="447.5" y="280.3" width="7.0" height="7.0" fill="#2210f8"/><rect x="452.3" y="288.1" width="7.0" height="7.0" fill="#2210f8"/><rect x="457.1" y="296.0" width="7.0" height="7.0" fill="#2210f8"/><rect x="462.0" y="304.6" width="7.0" height="7.0" fill="#2210f8"/><rect x="466.8" y="309.1" width="7.0" height="7.0" fill="#2210f8"/><rect x="471.6" y="312.7" width="7.0" height="7.0" fill="#2210f8"/><rect x="476.5" y="317.8" width="7.0" height="7.0" fill="#2210f8"/><rect x="481.3" y="324.4" width="7.0" height="7.0" fill="#2210f8"/><rect x="486.2" y="330.1" width="7.0" height="7.0" fill="#2210f8"/><rect x="491.0" y="335.8" width="7.0" height="7.0" fill="#2210f8"/><rect x="495.8" y="345.7" width="7.0" height="7.0" fill="#2210f8"/><rect x="500.7" y="349.0" width="7.0" height="7.0" fill="#2210f8"/><rect x="505.5" y="351.4" width="7.0" height="7.0" fill="#2210f8"/><rect x="510.3" y="352.2" width="7.0" height="7.0" fill="#2210f8"/>
<rect x="384.6" y="301.3" width="7.0" height="7.0" fill="#d2231a"/><rect x="389.5" y="295.4" width="7.0" height="7.0" fill="#d2231a"/><rect x="394.3" y="290.0" width="7.0" height="7.0" fill="#d2231a"/><rect x="399.1" y="284.5" width="7.0" height="7.0" fill="#d2231a"/><rect x="404.0" y="283.5" width="7.0" height="7.0" fill="#d2231a"/><rect x="408.8" y="281.5" width="7.0" height="7.0" fill="#d2231a"/><rect x="413.6" y="283.0" width="7.0" height="7.0" fill="#d2231a"/><rect x="418.5" y="298.0" width="7.0" height="7.0" fill="#d2231a"/><rect x="423.3" y="302.4" width="7.0" height="7.0" fill="#d2231a"/><rect x="428.1" y="308.0" width="7.0" height="7.0" fill="#d2231a"/><rect x="433.0" y="313.5" width="7.0" height="7.0" fill="#d2231a"/><rect x="437.8" y="316.8" width="7.0" height="7.0" fill="#d2231a"/><rect x="442.6" y="311.3" width="7.0" height="7.0" fill="#d2231a"/><rect x="447.5" y="319.0" width="7.0" height="7.0" fill="#d2231a"/><rect x="452.3" y="321.2" width="7.0" height="7.0" fill="#d2231a"/><rect x="457.1" y="325.6" width="7.0" height="7.0" fill="#d2231a"/><rect x="462.0" y="329.4" width="7.0" height="7.0" fill="#d2231a"/><rect x="466.8" y="332.3" width="7.0" height="7.0" fill="#d2231a"/><rect x="471.6" y="331.5" width="7.0" height="7.0" fill="#d2231a"/><rect x="476.5" y="334.5" width="7.0" height="7.0" fill="#d2231a"/><rect x="481.3" y="337.5" width="7.0" height="7.0" fill="#d2231a"/><rect x="486.2" y="339.5" width="7.0" height="7.0" fill="#d2231a"/><rect x="491.0" y="341.1" width="7.0" height="7.0" fill="#d2231a"/><rect x="495.8" y="342.0" width="7.0" height="7.0" fill="#d2231a"/><rect x="500.7" y="343.0" width="7.0" height="7.0" fill="#d2231a"/><rect x="505.5" y="344.0" width="7.0" height="7.0" fill="#d2231a"/><rect x="510.3" y="345.5" width="7.0" height="7.0" fill="#d2231a"/>
<path d="M344.6,369.0 L346.3,358.0 L348.0,349.6 L350.5,341.0 L353.1,329.0 L355.7,317.0 L358.2,304.3 L361.8,292.9 L364.0,287.0 L368.8,270.0 L373.6,272.0 L378.4,250.0 L383.3,249.0 L388.1,238.0 L393.0,236.5 L397.8,232.0 L402.6,232.0 L407.5,235.5 L412.3,229.5 L417.1,228.0 L422.0,227.0 L426.8,226.0 L431.6,225.0 L436.5,240.0 L441.3,246.5 L446.1,248.5 L451.0,254.1 L455.8,261.3 L460.6,263.3 L465.5,253.1 L470.3,266.0 L475.1,281.0 L480.0,292.0 L484.8,294.5 L489.7,293.4 L494.5,310.9 L499.3,316.0 L504.2,325.8 L509.0,326.2 L513.8,331.5 L518.7,336.5 L523.5,343.0 L528.3,347.5 L533.2,341.5 L538.0,339.0 L542.8,351.5 L547.7,347.5 L552.5,356.0 L557.3,355.0 L562.2,361.0 L567.0,360.5 L571.8,361.0 L576.6,362.0 L581.5,363.0 L586.3,365.5 L591.2,366.5 L596.0,368.5 L603.1,369.6 L608.5,371.2 L634.0,371.8" fill="none" stroke="#2210f8" stroke-width="3.2" stroke-linecap="round" stroke-linejoin="round" stroke-dasharray="0 6.0"/>
<path d="M344.6,371.5 L349.4,364.0 L354.3,356.0 L359.1,348.0 L364.0,338.0 L368.8,326.6 L373.6,322.0 L378.4,319.0 L383.3,322.7 L388.1,317.7 L393.0,319.5 L397.8,311.0 L402.6,311.8 L407.5,301.8 L412.3,305.0 L417.1,305.9 L422.0,306.0 L426.8,303.7 L431.6,302.6 L436.5,306.0 L441.3,303.7 L446.1,306.0 L451.0,309.0 L455.8,311.0 L460.6,312.6 L465.5,308.1 L470.3,316.0 L475.1,322.5 L480.0,326.0 L484.8,326.0 L489.7,324.0 L494.5,325.4 L499.3,325.4 L504.2,321.0 L509.0,317.2 L513.8,318.0 L518.7,320.0 L523.5,317.0 L528.3,308.0 L533.2,300.0 L538.0,288.5 L542.8,284.8 L547.7,286.3 L552.5,290.0 L557.3,294.0 L562.2,298.5 L567.0,301.0 L571.8,309.0 L576.6,318.7 L581.5,326.0 L586.3,333.0 L591.2,339.0 L596.0,345.5 L600.8,354.0 L605.7,361.5 L610.5,365.5 L615.3,367.5 L618.4,368.8 L623.7,370.2 L629.1,370.4 L634.0,371.2" fill="none" stroke="#d2231a" stroke-width="3.2" stroke-linecap="round" stroke-linejoin="round" stroke-dasharray="0 6.0"/>
<path d="M344.6,371.2 L349.4,362.5 L354.3,354.5 L359.1,346.0 L364.0,324.6 L368.8,331.6 L373.6,321.7 L378.4,325.6 L383.3,328.0 L388.1,330.6 L393.0,320.0 L397.8,309.8 L402.6,307.8 L407.5,309.8 L412.3,307.0 L417.1,313.7 L422.0,310.4 L426.8,310.0 L431.6,307.0 L436.5,315.9 L441.3,311.5 L446.1,317.0 L451.0,308.1 L455.8,312.6 L460.6,315.9 L465.5,312.6 L470.3,317.0 L475.1,307.8 L480.0,317.0 L484.8,312.9 L489.7,326.0 L494.5,319.0 L499.3,323.0 L504.2,313.9 L509.0,305.7 L513.8,313.9 L518.7,320.0 L523.5,316.2 L528.3,317.0 L533.2,309.8 L538.0,325.0 L542.8,303.5 L547.7,306.0 L552.5,311.7 L557.3,326.0 L562.2,313.5 L567.0,307.6 L571.8,299.0 L576.6,304.6 L581.5,302.6 L586.3,309.5 L591.2,297.4 L596.0,285.1 L600.8,291.3 L605.7,293.7 L610.5,284.7 L615.3,312.0 L620.2,300.4 L625.0,318.3 L629.9,322.2 L634.7,334.6 L639.5,341.1 L644.4,345.8 L649.2,352.3 L654.0,359.8 L658.9,367.3 L663.7,368.2 L668.5,368.8 L673.4,369.5 L678.2,370.5 L683.0,371.0" fill="none" stroke="#d2231a" stroke-width="2.5" stroke-linejoin="miter" stroke-miterlimit="3"/>
<path d="M344.6,371.0 L347.1,355.0 L349.4,348.0 L352.3,337.6 L354.8,332.5 L358.2,325.6 L359.1,323.5 L364.0,300.0 L368.8,323.0 L373.6,296.5 L378.4,285.0 L383.3,274.2 L388.1,274.2 L393.0,281.0 L397.8,239.5 L402.6,251.4 L407.5,252.6 L412.3,240.6 L417.1,246.9 L422.0,225.8 L426.8,227.0 L431.6,223.5 L436.5,248.0 L441.3,251.4 L446.1,224.7 L451.0,255.0 L455.8,237.7 L460.6,257.2 L465.5,257.2 L470.3,253.1 L475.1,256.2 L480.0,270.9 L484.8,278.5 L489.7,281.1 L494.5,269.9 L499.3,275.0 L504.2,287.3 L509.0,264.7 L513.8,281.1 L518.7,287.3 L523.5,294.0 L528.3,290.4 L533.2,283.2 L538.0,295.5 L542.8,299.6 L547.7,296.1 L552.5,303.7 L557.3,320.0 L562.2,313.5 L567.0,320.3 L571.8,308.5 L576.6,336.4 L581.5,337.4 L586.3,342.1 L591.2,348.6 L596.0,353.8 L600.8,338.3 L605.7,344.9 L610.5,353.3 L615.3,351.4 L620.2,360.7 L625.0,364.5 L629.9,366.4 L634.7,366.4 L639.5,367.3 L644.4,366.4 L649.2,370.1 L654.0,371.0 L658.9,369.5 L663.7,371.0 L683.0,371.5" fill="none" stroke="#2210f8" stroke-width="2.5" stroke-linejoin="miter" stroke-miterlimit="3"/>
</g>
<rect x="344.7" y="1.9" width="338.00000000000006" height="370.0" fill="none" stroke="#000" stroke-width="1.9"/>
<line x1="344.7" y1="186.7" x2="682.7" y2="186.7" stroke="#000" stroke-width="1.9"/>
<text transform="translate(344.60,394.20) scale(1,1.05)" font-size="22" text-anchor="middle">0</text>
<text transform="translate(441.30,394.20) scale(1,1.05)" font-size="22" text-anchor="middle">20</text>
<text transform="translate(538.00,394.20) scale(1,1.05)" font-size="22" text-anchor="middle">40</text>
<text transform="translate(634.70,394.20) scale(1,1.05)" font-size="22" text-anchor="middle">60</text>
<text transform="translate(330.00,191.50) rotate(-90) scale(1,1.015)" font-size="24.5" text-anchor="middle">Population</text>
<text transform="translate(508.90,430.30) scale(1,1.0)" font-size="25"><tspan font-style="italic">j</tspan><tspan font-size="15" dy="5.9">f</tspan></text>
<text transform="translate(347.00,21.00) scale(1,1.04)" font-size="22">(b)</text>
<text transform="translate(378.90,21.00) scale(1,1.04)" font-size="22">3</text>
<path d="M391.6,15.6 H410.0" stroke="#000" stroke-width="1.15" fill="none"/><path d="M406.2,11.8 L410.8,15.6 L406.2,19.4" stroke="#000" stroke-width="1.5" fill="none" stroke-linejoin="miter"/>
<text transform="translate(411.40,21.00) scale(1,1.04)" font-size="22">3</text>
<text transform="translate(347.20,205.30) scale(1,1.04)" font-size="22">(c)</text>
<text transform="translate(378.00,205.30) scale(1,1.04)" font-size="22">3</text>
<path d="M390.4,199.9 H408.2" stroke="#000" stroke-width="1.15" fill="none"/><path d="M404.4,196.1 L409,199.9 L404.4,203.70000000000002" stroke="#000" stroke-width="1.5" fill="none" stroke-linejoin="miter"/>
<text transform="translate(410.10,205.30) scale(1,1.04)" font-size="22">2</text>
<text transform="translate(453.80,19.20) scale(1,1.04)" font-size="19.4">Expt.:</text>
<rect x="514.8" y="11" width="6.8" height="6.8" fill="#2210f8"/>
<text transform="translate(534.00,18.30) scale(1,1.04)" font-size="19.4">N-first</text>
<rect x="603.7" y="11" width="6.8" height="6.8" fill="#d2231a"/>
<text transform="translate(625.50,18.30) scale(1,1.04)" font-size="19.4">O-first</text>
<text transform="translate(499.60,44.30) scale(1,1.04)" font-size="19.4" text-anchor="end">IESH-RE:</text>
<line x1="504.9" y1="38.1" x2="530" y2="38.1" stroke="#2210f8" stroke-width="3" stroke-linecap="round" stroke-dasharray="0 6.2"/>
<text transform="translate(536.40,41.80) scale(1,1.04)" font-size="19.4">N-first</text>
<line x1="593.5" y1="37.9" x2="620" y2="37.9" stroke="#d2231a" stroke-width="3" stroke-linecap="round" stroke-dasharray="0 6.2"/>
<text transform="translate(625.50,41.80) scale(1,1.04)" font-size="19.4">O-first</text>
<text transform="translate(499.60,68.70) scale(1,1.04)" font-size="19.4" text-anchor="end">IESH-PW:</text>
<line x1="504" y1="61.8" x2="532" y2="61.8" stroke="#2210f8" stroke-width="2"/>
<text transform="translate(536.40,66.20) scale(1,1.04)" font-size="19.4">N-first</text>
<line x1="592.8" y1="61" x2="621" y2="61" stroke="#d2231a" stroke-width="2"/>
<text transform="translate(625.50,66.20) scale(1,1.04)" font-size="19.4">O-first</text>
</g>
</svg>
</body></html>
